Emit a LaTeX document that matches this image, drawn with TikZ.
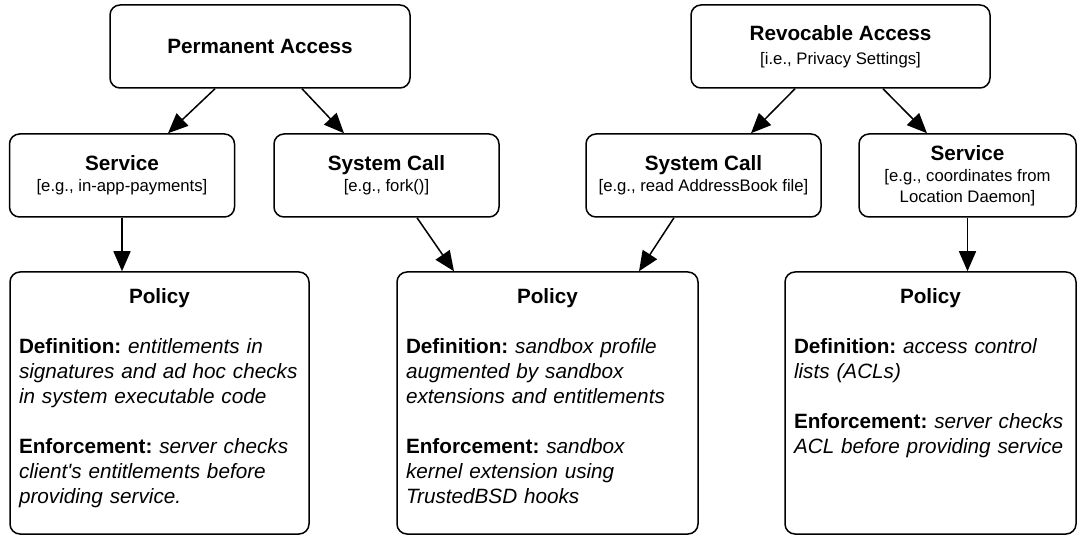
\documentclass[tikz,border=0pt]{standalone}
\usepackage{fontspec}
\setmainfont{Liberation Sans}
\usetikzlibrary{arrows.meta}

\newcommand{\hd}[1]{{\fontsize{20.7}{21}\selectfont\bfseries #1}}
\frenchspacing

\begin{document}
\begin{tikzpicture}[
    x=1pt, y=1pt,
    access/.style={draw, line width=1.5pt, rounded corners=10pt, align=center, inner sep=0pt, minimum height=83pt, font=\fontsize{16.7}{21}\selectfont},
    policy/.style={draw, line width=1.5pt, rounded corners=10pt, align=left, inner xsep=9pt, inner ysep=0pt, text height=32pt, text depth=230pt, font=\fontsize{20.7}{25}\selectfont},
    arrow/.style={-{Triangle[length=20pt,width=17pt]}, line width=1.5pt}
  ]
    \useasboundingbox (0,0) rectangle (1078,535);

    \node[access, minimum width=300pt] (perm) at (260,488.5) {\hd{Permanent Access}};
    \node[access, minimum width=299pt] (revo) at (840.5,488.5) {\hd{Revocable Access}\\[3pt]{[i.e., Privacy Settings]}};

    \node[access, minimum width=225pt] (srvl) at (122,359.5) {\hd{Service}\\{[e.g., in-app-payments]}};
    \node[access, minimum width=225pt] (sysl) at (386.5,359.5) {\hd{System Call}\\{[e.g., fork()]}};
    \node[access, minimum width=235pt] (sysr) at (703.5,359.5) {\hd{System Call}\\{[e.g., read AddressBook file]}};
    \node[access, minimum width=217pt] (srvr) at (967.5,359.5) {\hd{Service}\\{[e.g., coordinates from}\\{Location Daemon]}};

    \node[policy, text width=281pt] (pol1) at (159.5,132) {%
      \makebox[\linewidth]{\bfseries Policy}\\[25pt]
      \textbf{Definition:} \textit{entitlements in}\\
      \textit{signatures and ad hoc checks}\\
      \textit{in system executable code}\\[25pt]
      \textbf{Enforcement:} \textit{server checks}\\
      \textit{client\textquotesingle s entitlements before}\\
      \textit{providing service.}
    };
    \node[policy, text width=283pt] (pol2) at (547.5,132) {%
      \makebox[\linewidth]{\bfseries Policy}\\[25pt]
      \textbf{Definition:} \textit{sandbox profile}\\
      \textit{augmented by sandbox}\\
      \textit{extensions and entitlements}\\[25pt]
      \textbf{Enforcement:} \textit{sandbox}\\
      \textit{kernel extension using}\\
      \textit{TrustedBSD hooks}
    };
    \node[policy, text width=273pt] (pol3) at (930.5,132) {%
      \makebox[\linewidth]{\bfseries Policy}\\[25pt]
      \textbf{Definition:} \textit{access control}\\
      \textit{lists (ACLs)}\\[25pt]
      \textbf{Enforcement:} \textit{server checks}\\
      \textit{ACL before providing service}
    };

    \draw[arrow] ([xshift=-45pt]perm.south) -- ([xshift=46pt]srvl.north);
    \draw[arrow] ([xshift=42pt]perm.south) -- ([xshift=-42.5pt]sysl.north);
    \draw[arrow] ([xshift=-45.5pt]revo.south) -- ([xshift=47.5pt]sysr.north);
    \draw[arrow] ([xshift=42.5pt]revo.south) -- ([xshift=-40.5pt]srvr.north);
    \draw[arrow] (srvl.south) -- (srvl.south |- pol1.north);
    \draw[arrow] ([xshift=30.5pt]sysl.south) -- ([xshift=-93.5pt]pol2.north);
    \draw[arrow] ([xshift=-29.5pt]sysr.south) -- ([xshift=91.5pt]pol2.north);
    \draw[arrow] (srvr.south) -- (srvr.south |- pol3.north);
  \end{tikzpicture}
\end{document}
